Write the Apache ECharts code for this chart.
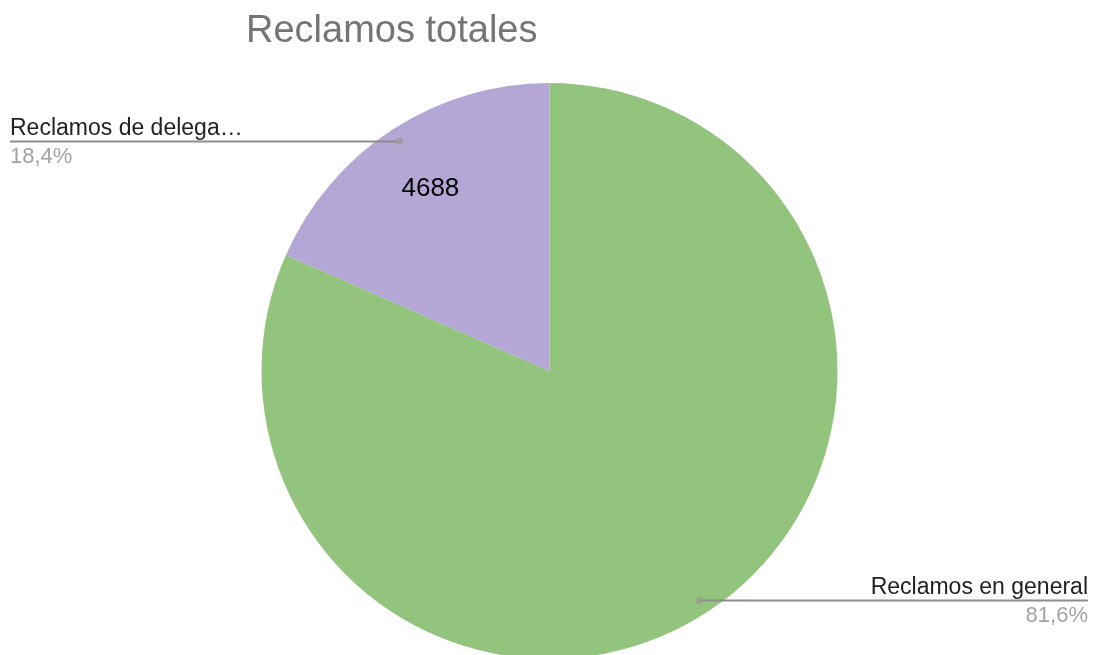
<!DOCTYPE html>
<html>
<head>
<meta charset="utf-8">
<script src="https://cdn.jsdelivr.net/npm/echarts@6/dist/echarts.min.js"></script>
<style>
  html, body { margin: 0; padding: 0; background: #fff; }
  #chart { width: 1094px; height: 655px; }
</style>
</head>
<body>
<div id="chart"></div>
<script>
// Chart data
const titleText = 'Reclamos totales';
const categories = ['Reclamos en general', 'Reclamos de delega…'];
const values = [20790, 4688];
const colors = ['#93c47d', '#b4a7d6'];
const valueLabelShown = [false, true];

const FONT = 'Arial, "Liberation Sans", sans-serif';
const total = values.reduce((a, b) => a + b, 0);

// Dots where the leader lines start: middle angle of each slice
let acc = 0;
const midPoints = values.map(v => {
  const mid = acc + v / 2;
  acc += v;
  return [1, mid];
});

const CX = 549.5, CY = 371, R = 288, R_DOT = 274;
const pieBox = { left: 4, right: 0, top: 0, bottom: 0 };
const pieCenter = [CX - pieBox.left, CY];

const chart = echarts.init(document.getElementById('chart'), null, { renderer: 'canvas' });

const option = {
  animation: false,
  backgroundColor: '#ffffff',
  title: {
    text: titleText,
    left: 241,
    top: 8,
    textStyle: { fontFamily: FONT, fontSize: 38, fontWeight: 'normal', color: '#757575' }
  },
  polar: { center: [CX, CY], radius: R_DOT },
  angleAxis: { type: 'value', min: 0, max: total, startAngle: 90, clockwise: true, show: false },
  radiusAxis: { type: 'value', min: 0, max: 1, show: false },
  series: [
    {
      // the slices
      type: 'pie',
      ...pieBox,
      center: pieCenter,
      radius: [0, R],
      startAngle: 90,
      clockwise: true,
      silent: true,
      z: 1,
      label: { show: false },
      labelLine: { show: false },
      data: categories.map((c, i) => ({ name: c, value: values[i], itemStyle: { color: colors[i] } }))
    },
    {
      // value labels inside the slices
      type: 'pie',
      ...pieBox,
      center: pieCenter,
      radius: [142, R],
      startAngle: 90,
      clockwise: true,
      silent: true,
      z: 3,
      itemStyle: { color: 'rgba(0,0,0,0)' },
      labelLine: { show: false },
      data: categories.map((c, i) => ({
        name: c,
        value: values[i],
        label: {
          show: valueLabelShown[i],
          position: 'inside',
          formatter: '{c}',
          fontFamily: FONT,
          fontSize: 26,
          color: '#000000'
        }
      }))
    },
    {
      // outside labels with leader lines
      type: 'pie',
      ...pieBox,
      center: pieCenter,
      radius: [0, R_DOT],
      startAngle: 90,
      clockwise: true,
      silent: true,
      z: 4,
      itemStyle: { color: 'rgba(0,0,0,0)' },
      label: {
        show: true,
        position: 'outside',
        alignTo: 'edge',
        edgeDistance: 6,
        formatter: p => '{n|' + p.name + '}\n{p|' + (p.value / total * 100).toFixed(1).replace('.', ',') + '%}',
        rich: {
          n: { fontFamily: FONT, fontSize: 23, color: '#222222', lineHeight: 30 },
          p: { fontFamily: FONT, fontSize: 22, color: '#a3a3a3', lineHeight: 26 }
        }
      },
      labelLine: {
        show: true,
        length: 0.01,
        length2: 10,
        lineStyle: { color: '#8c8c8c', width: 2 }
      },
      labelLayout: function (p) {
        const pts = p.labelLinePoints;
        if (!pts) return {};
        const r = p.labelRect;
        const out = pts.map(q => q.slice());
        let start = null;
        try {
          start = chart.convertToPixel({ polarIndex: 0 }, midPoints[p.dataIndex]);
        } catch (e) { start = null; }
        if (start && isFinite(start[0]) && isFinite(start[1])) {
          out[0] = [start[0], start[1]];
          out[1] = [start[0], start[1]];
          out[2] = [out[2][0], start[1]];
        }
        const last = out[out.length - 1];
        last[0] = last[0] < out[0][0] ? r.x : r.x + r.width;
        return { labelLinePoints: out };
      },
      data: categories.map((c, i) => ({ name: c, value: values[i] }))
    },
    {
      type: 'scatter',
      coordinateSystem: 'polar',
      symbolSize: 7,
      silent: true,
      z: 5,
      itemStyle: { color: '#9a9a9a' },
      data: midPoints
    }
  ]
};

chart.setOption(option);
</script>
</body>
</html>
